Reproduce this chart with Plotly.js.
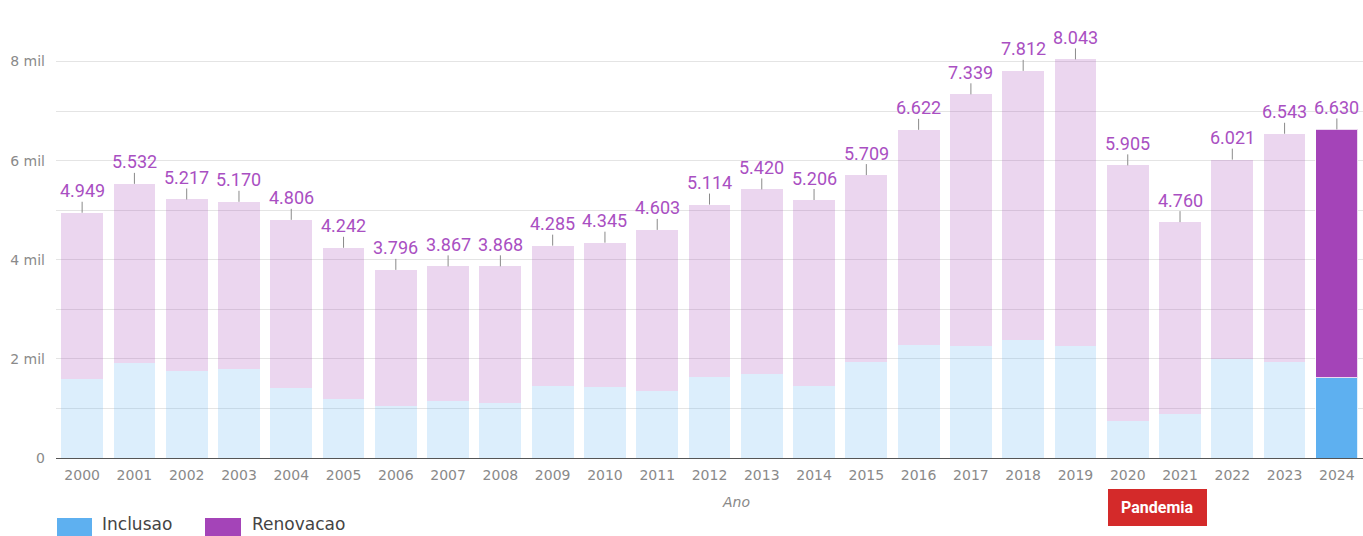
<!DOCTYPE html>
<html>
<head>
<meta charset="utf-8">
<script src="https://cdn.plot.ly/plotly-3.0.1.min.js"></script>
<style>html,body{margin:0;padding:0;background:#fff;}#chart{width:1363px;height:536px;}</style>
</head>
<body>
<div id="chart"></div>
<script>
const anos = ['2000','2001','2002','2003','2004','2005','2006','2007','2008','2009','2010','2011','2012','2013','2014','2015','2016','2017','2018','2019','2020','2021','2022','2023','2024'];
const inclusao = [1600,1910,1760,1790,1420,1200,1050,1150,1120,1450,1440,1350,1640,1700,1460,1940,2280,2270,2390,2260,740,890,2000,1940,1620];
const renovacao = [3349,3622,3457,3380,3386,3042,2746,2717,2748,2835,2905,3253,3474,3720,3746,3769,4342,5069,5422,5783,5165,3870,4021,4603,5010];
const totais = [4949,5532,5217,5170,4806,4242,3796,3867,3868,4285,4345,4603,5114,5420,5206,5709,6622,7339,7812,8043,5905,4760,6021,6543,6630];
const yTickVals = [0,1000,2000,3000,4000,5000,6000,7000,8000,9000];
const yTickText = ['0','','2 mil','','4 mil','','6 mil','','8 mil',''];

const destaque = '2024';
const azulForte = '#5EB0F0', azulFraco = 'rgba(94,176,240,0.22)';
const roxoForte = '#A444B8', roxoFraco = 'rgba(164,68,184,0.22)';
const corInc = anos.map(a => a === destaque ? azulForte : azulFraco);
const corRen = anos.map(a => a === destaque ? roxoForte : roxoFraco);
const linha = anos.map(a => a === destaque ? 'rgba(255,255,255,0.8)' : 'rgba(255,255,255,0)');

function fmt(v){ return Math.floor(v/1000) + '.' + String(v%1000).padStart(3,'0'); }

const traces = [
  {type:'bar', name:'Inclusao', x:anos, y:inclusao, marker:{color:corInc, line:{color:linha, width:1}}, showlegend:false, hoverinfo:'x+y'},
  {type:'bar', name:'Renovacao', x:anos, y:renovacao, marker:{color:corRen, line:{color:linha, width:1}}, showlegend:false, hoverinfo:'x+y'}
];

const tickFont = {family:'"DejaVu Sans", sans-serif', size:14, color:'#8a8a8a'};

const annotations = anos.map((a,i) => ({
  x:i, y:totais[i], xref:'x', yref:'y', text:fmt(totais[i]),
  showarrow:true, arrowhead:0, arrowwidth:1, arrowcolor:'#8a8a8a', ax:0, ay:-22, standoff:0,
  font:{family:'Roboto, sans-serif', size:18, color:'#A94FC2'}, borderpad:0
}));
annotations.push({x:(736-56)/1307, y:-(502-458)/446, xref:'paper', yref:'paper', xanchor:'center', yanchor:'middle',
  text:'<i>Ano</i>', showarrow:false, font:{family:'"DejaVu Sans", sans-serif', size:14, color:'#888'}});
annotations.push({x:(1157.5-56)/1307, y:-(507.5-458)/446, xref:'paper', yref:'paper', xanchor:'center', yanchor:'middle',
  text:'<b>Pandemia</b>', showarrow:false, font:{family:'Roboto, sans-serif', size:16, color:'#ffffff'}});
annotations.push({x:(100-56)/1307, y:-(524-458)/446, xref:'paper', yref:'paper', xanchor:'left', yanchor:'middle', text:'Inclusao', showarrow:false, font:{family:'"DejaVu Sans", sans-serif', size:17, color:'#444'}});
annotations.push({x:(250-56)/1307, y:-(524-458)/446, xref:'paper', yref:'paper', xanchor:'left', yanchor:'middle', text:'Renovacao', showarrow:false, font:{family:'"DejaVu Sans", sans-serif', size:17, color:'#444'}});

const shapes = [
  {type:'rect', xref:'paper', yref:'paper', x0:(1108-56)/1307, x1:(1207-56)/1307, y0:-(489-458)/446, y1:-(526-458)/446, fillcolor:'#D42A2A', line:{width:0}},
  {type:'rect', xref:'paper', yref:'paper', x0:(57-56)/1307, x1:(92-56)/1307, y0:-(518-458)/446, y1:-(537-458)/446, fillcolor:azulForte, line:{width:0}},
  {type:'rect', xref:'paper', yref:'paper', x0:(205-56)/1307, x1:(241-56)/1307, y0:-(518-458)/446, y1:-(537-458)/446, fillcolor:roxoForte, line:{width:0}}
];

const layout = {
  width:1363, height:536,
  margin:{l:56, r:0, t:12, b:78},
  barmode:'stack', bargap:0.2,
  paper_bgcolor:'#ffffff', plot_bgcolor:'#ffffff',
  showlegend:false,
  xaxis:{type:'category', range:[-0.5, anos.length-0.5], autorange:false, tickangle:0,
         tickfont:tickFont, showline:true, linecolor:'#555', linewidth:1,
         ticks:'', showgrid:false, ticklabelstandoff:4},
  yaxis:{range:[0,9000], autorange:false, tickvals:yTickVals, ticktext:yTickText, showgrid:true, gridcolor:'#e4e4e4', gridwidth:1,
         zeroline:false, tickfont:tickFont, ticks:'', ticklabelstandoff:10},
  annotations:annotations, shapes:shapes,
  font:{family:'"DejaVu Sans", sans-serif'}
};
Plotly.newPlot('chart', traces, layout, {displayModeBar:false, staticPlot:true});
</script>
</body>
</html>
